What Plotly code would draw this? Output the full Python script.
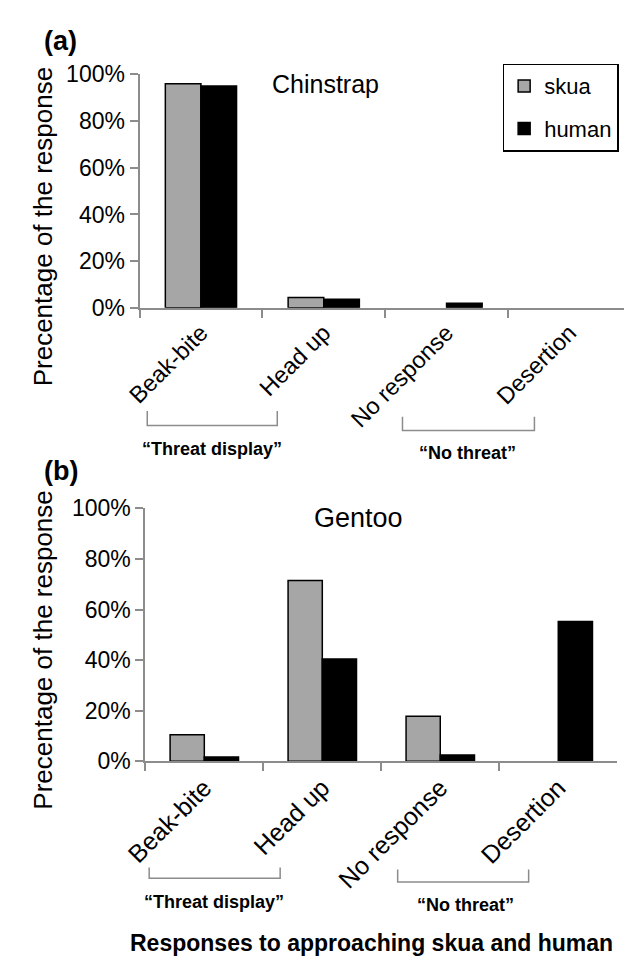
import plotly.graph_objects as go

categories = ["Beak-bite", "Head up", "No response", "Desertion"]
chinstrap_skua = [96.0, 4.4, 0.0, 0.0]
chinstrap_human = [95.0, 3.7, 2.0, 0.0]
gentoo_skua = [10.5, 71.5, 17.8, 0.0]
gentoo_human = [1.7, 40.5, 2.5, 55.3]
series_names = ["skua", "human"]
y_ticks = [0, 20, 40, 60, 80, 100]
y_tick_labels = ["0%", "20%", "40%", "60%", "80%", "100%"]

W, H = 624, 969
FONT = "Liberation Sans, Arial, sans-serif"
GRAY_FILL = "#A6A6A6"
AXIS_GRAY = "#8C8C8C"


def px(x):
    return x / W


def py(y):
    return 1 - y / H


def outline(values):
    return [1.5 if v > 0 else 0 for v in values]


fig = go.Figure()

panels = [
    (chinstrap_skua, chinstrap_human, "x", "y", True),
    (gentoo_skua, gentoo_human, "x2", "y2", False),
]
for skua, human, xa, ya, show in panels:
    fig.add_trace(go.Bar(
        x=categories, y=skua, name=series_names[0], xaxis=xa, yaxis=ya,
        marker=dict(color=GRAY_FILL, line=dict(color="black", width=outline(skua))),
        showlegend=show, legendgroup="skua",
    ))
    fig.add_trace(go.Bar(
        x=categories, y=human, name=series_names[1], xaxis=xa, yaxis=ya,
        marker=dict(color="black", line=dict(color="black", width=outline(human))),
        showlegend=show, legendgroup="human",
    ))

xcommon = dict(
    type="category", showline=True, linecolor=AXIS_GRAY, linewidth=2,
    ticks="outside", tickson="boundaries", ticklen=8, tickcolor=AXIS_GRAY,
    tickwidth=2, tickangle=-45, showgrid=False, zeroline=False,
)
ycommon = dict(
    range=[0, 100], tickmode="array", tickvals=y_ticks, ticktext=y_tick_labels,
    showline=True, linecolor=AXIS_GRAY, linewidth=2, ticks="outside", ticklen=8,
    tickcolor=AXIS_GRAY, tickwidth=2, showgrid=False, zeroline=False,
    tickfont=dict(family=FONT, size=23, color="black"),
)

fig.update_layout(
    width=W, height=H,
    margin=dict(l=0, r=0, t=0, b=0),
    paper_bgcolor="white", plot_bgcolor="white",
    barmode="group", bargap=0.42, bargroupgap=0,
    font=dict(family=FONT, color="black"),
    xaxis=dict(xcommon, domain=[px(121), 1.0], range=[-0.5, 3.445], anchor="y",
               tickfont=dict(family=FONT, size=23.5, color="black")),
    yaxis=dict(ycommon, domain=[py(303), py(63)], anchor="x"),
    xaxis2=dict(xcommon, domain=[px(127), px(617)], range=[-0.5, 3.5], anchor="y2",
                tickfont=dict(family=FONT, size=25, color="black")),
    yaxis2=dict(ycommon, domain=[py(769), py(509)], anchor="x2"),
    legend=dict(
        x=px(498), y=py(52), xanchor="left", yanchor="top",
        bordercolor="black", borderwidth=1.5, bgcolor="white",
        font=dict(family=FONT, size=22, color="black"),
        tracegroupgap=11, itemwidth=30,
    ),
)

annotations = [
    dict(text="<b>(a)</b>", x=px(39), y=py(29), size=27),
    dict(text="<b>(b)</b>", x=px(39), y=py(471), size=27),
    dict(text="Chinstrap", x=px(314), y=py(73), size=25),
    dict(text="Gentoo", x=px(348), y=py(519), size=27),
    dict(text="<b>“Threat display”</b>", x=px(196), y=py(448), size=18),
    dict(text="<b>“No threat”</b>", x=px(462), y=py(452), size=18),
    dict(text="<b>“Threat display”</b>", x=px(198), y=py(914), size=18),
    dict(text="<b>“No threat”</b>", x=px(459), y=py(917), size=18),
    dict(text="<b>Responses to approaching skua and human</b>", x=px(362), y=py(956), size=23),
]
for a in annotations:
    fig.add_annotation(
        text=a["text"], x=a["x"], y=a["y"], xref="paper", yref="paper",
        xanchor="center", yanchor="middle", showarrow=False,
        font=dict(family=FONT, size=a["size"], color="black"),
    )

for cy in (220, 655):
    fig.add_annotation(
        text="Precentage of the response", x=px(21), y=py(cy),
        xref="paper", yref="paper", xanchor="center", yanchor="middle",
        showarrow=False, textangle=-90,
        font=dict(family=FONT, size=26, color="black"),
    )

# group brackets
brackets = [
    (129, 264, 409, 424),
    (394, 531, 415, 429),
    (131, 267, 878, 889),
    (389, 525, 880, 893),
]
for x0, x1, ytop, ybot in brackets:
    fig.add_shape(
        type="path", xref="paper", yref="paper",
        path=f"M {px(x0)},{py(ytop)} L {px(x0)},{py(ybot)} L {px(x1)},{py(ybot)} L {px(x1)},{py(ytop)}",
        line=dict(color=AXIS_GRAY, width=1.5),
    )

fig.write_html(
    "out.html",
    config={"displayModeBar": False},
    post_script="document.body.style.margin='0';document.body.style.padding='0';",
)
